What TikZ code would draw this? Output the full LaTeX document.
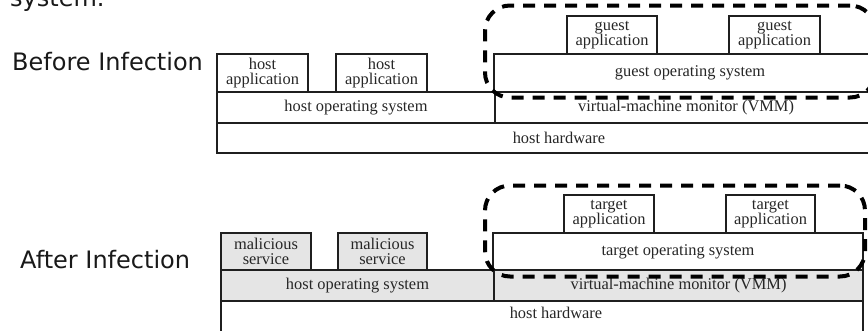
\documentclass[tikz,border=0pt]{standalone}
\usepackage{fontspec}
\setmainfont{Liberation Serif}
\newfontfamily\labelfont{DejaVu Sans}
\begin{document}
\begin{tikzpicture}[x=1pt,y=-1pt,
  layer/.style={draw=black!88, line width=1.2pt, inner sep=0pt, outer sep=0pt,
    anchor=north west, align=center, text=black!85,
    font=\fontsize{16.4}{15.5}\selectfont},
  infected/.style={layer, fill=black!10},
  vmzone/.style={draw=black, line width=4pt, dash pattern=on 12pt off 9pt,
    rounded corners=25pt, inner sep=0pt, outer sep=0pt, anchor=north west},
  caption/.style={font=\labelfont\fontsize{24}{28}\selectfont, text=black!90,
    anchor=base west, inner sep=0pt}]
\useasboundingbox (0,0) rectangle (868,330);
\clip (0,0) rectangle (868,330);

% heading line continued from above
\node[caption] (headtail) at (10,6) {system.};

% ---------- before infection ----------
\node[caption] (before) at (12,70) {Before Infection};

\node[layer, minimum width=684pt, minimum height=30pt] (hwA) at (217,123) {host hardware};
\node[layer, minimum width=278pt, minimum height=31pt] (hosA) at (217,92) {host operating system};
\node[layer, minimum width=382pt, minimum height=31pt] (vmmA) at (495,92) {virtual-machine monitor (VMM)};
\node[layer, minimum width=91pt, minimum height=38pt] (happ1) at (217,54) {host\\application};
\node[layer, minimum width=91pt, minimum height=38pt] (happ2) at (336,54) {host\\application};
\node[layer, minimum width=392pt, minimum height=38pt] (gosA) at (494,54) {guest operating system};
\node[layer, minimum width=90pt, minimum height=38pt] (gapp1) at (567,16) {guest\\application};
\node[layer, minimum width=91pt, minimum height=38pt] (gapp2) at (729,16) {guest\\application};

\node[vmzone, minimum width=390pt, minimum height=92pt] (zoneA) at (485,5.5) {};

% ---------- after infection ----------
\node[caption] (after) at (20,268) {After Infection};

\node[layer, minimum width=642pt, minimum height=32pt] (hwB) at (221,301) {};
\node[anchor=north, inner sep=0pt, text=black!85, font=\fontsize{16.4}{15.5}\selectfont]
  (hwBlabel) at ([xshift=14pt,yshift=-6pt]hwB.north) {host hardware};
\node[infected, minimum width=273pt, minimum height=31pt] (hosB) at (221,270) {host operating system};
\node[infected, minimum width=369pt, minimum height=31pt] (vmmB) at (494,270) {virtual-machine monitor (VMM)};
\node[infected, minimum width=90pt, minimum height=37pt] (mal1) at (221,233) {malicious\\service};
\node[infected, minimum width=89pt, minimum height=37pt] (mal2) at (338,233) {malicious\\service};
\node[layer, minimum width=370pt, minimum height=37pt] (tosB) at (493,233) {target operating system};
\node[layer, minimum width=90pt, minimum height=38pt] (tapp1) at (564,195) {target\\application};
\node[layer, minimum width=89pt, minimum height=38pt] (tapp2) at (726,195) {target\\application};

\node[vmzone, minimum width=380pt, minimum height=91pt] (zoneB) at (485,185.5) {};
\end{tikzpicture}
\end{document}
